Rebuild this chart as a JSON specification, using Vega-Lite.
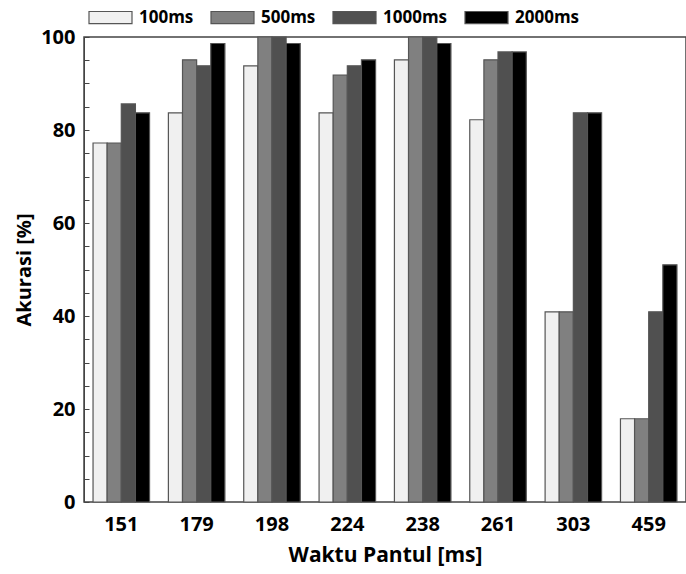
{
  "$schema": "https://vega.github.io/schema/vega-lite/v6.json",
  "width": 602,
  "height": 465,
  "autosize": "none",
  "padding": {"left": 84, "top": 37, "right": 0, "bottom": 72},
  "background": "white",
  "config": {
    "font": "Open Sans",
    "view": {"stroke": "#444", "strokeWidth": 1.5}
  },
  "data": {
    "values": [
      {"w": "151", "s": "100ms", "v": 77.2}, {"w": "151", "s": "500ms", "v": 77.2}, {"w": "151", "s": "1000ms", "v": 85.6}, {"w": "151", "s": "2000ms", "v": 83.7},
      {"w": "179", "s": "100ms", "v": 83.7}, {"w": "179", "s": "500ms", "v": 95.1}, {"w": "179", "s": "1000ms", "v": 93.8}, {"w": "179", "s": "2000ms", "v": 98.6},
      {"w": "198", "s": "100ms", "v": 93.8}, {"w": "198", "s": "500ms", "v": 100}, {"w": "198", "s": "1000ms", "v": 100}, {"w": "198", "s": "2000ms", "v": 98.6},
      {"w": "224", "s": "100ms", "v": 83.7}, {"w": "224", "s": "500ms", "v": 91.8}, {"w": "224", "s": "1000ms", "v": 93.8}, {"w": "224", "s": "2000ms", "v": 95.1},
      {"w": "238", "s": "100ms", "v": 95.1}, {"w": "238", "s": "500ms", "v": 100}, {"w": "238", "s": "1000ms", "v": 100}, {"w": "238", "s": "2000ms", "v": 98.6},
      {"w": "261", "s": "100ms", "v": 82.2}, {"w": "261", "s": "500ms", "v": 95.1}, {"w": "261", "s": "1000ms", "v": 96.8}, {"w": "261", "s": "2000ms", "v": 96.8},
      {"w": "303", "s": "100ms", "v": 40.9}, {"w": "303", "s": "500ms", "v": 40.9}, {"w": "303", "s": "1000ms", "v": 83.7}, {"w": "303", "s": "2000ms", "v": 83.7},
      {"w": "459", "s": "100ms", "v": 17.9}, {"w": "459", "s": "500ms", "v": 17.9}, {"w": "459", "s": "1000ms", "v": 40.9}, {"w": "459", "s": "2000ms", "v": 51.0}
    ]
  },
  "mark": {"type": "bar", "stroke": "#555", "strokeWidth": 1.2},
  "encoding": {
    "x": {
      "field": "w", "type": "nominal", "sort": null,
      "scale": {"paddingInner": 0.25, "paddingOuter": 0.12},
      "axis": {
        "title": "Waktu Pantul [ms]", "labelAngle": 0, "ticks": false, "domain": false,
        "labelFontSize": 20, "labelFontWeight": "bold", "labelColor": "#000", "labelPadding": 12,
        "titleFontSize": 21, "titleFontWeight": "bold", "titleColor": "#000", "titlePadding": 10
      }
    },
    "xOffset": {"field": "s", "type": "nominal", "sort": ["100ms", "500ms", "1000ms", "2000ms"], "scale": {"paddingInner": 0, "paddingOuter": 0}},
    "y": {
      "field": "v", "type": "quantitative",
      "scale": {"domain": [0, 100], "nice": false},
      "axis": {
        "title": "Akurasi [%]", "values": [0,5,10,15,20,25,30,35,40,45,50,55,60,65,70,75,80,85,90,95,100],
        "labelExpr": "datum.value % 20 === 0 ? datum.label : ''",
        "grid": false, "tickSize": -5, "tickColor": "#444", "domainColor": "#444",
        "labelFontSize": 20, "labelFontWeight": "bold", "labelColor": "#000", "labelPadding": 14,
        "titleFontSize": 20, "titleFontWeight": "bold", "titleColor": "#000", "titlePadding": 6
      }
    },
    "fill": {
      "field": "s", "type": "nominal",
      "sort": ["100ms", "500ms", "1000ms", "2000ms"],
      "scale": {"domain": ["100ms", "500ms", "1000ms", "2000ms"], "range": ["#f0f0f0", "#808080", "#505050", "#000000"]},
      "legend": {
        "title": null, "orient": "none", "direction": "horizontal", "legendX": 4, "legendY": -42,
        "symbolType": "M-1,-0.28H1V0.28H-1Z", "symbolSize": 1849, "symbolStrokeColor": "#555", "symbolStrokeWidth": 1.2,
        "labelFontSize": 17, "labelFontWeight": "bold", "labelColor": "#000", "labelOffset": 6, "columnPadding": 14
      }
    }
  }
}
